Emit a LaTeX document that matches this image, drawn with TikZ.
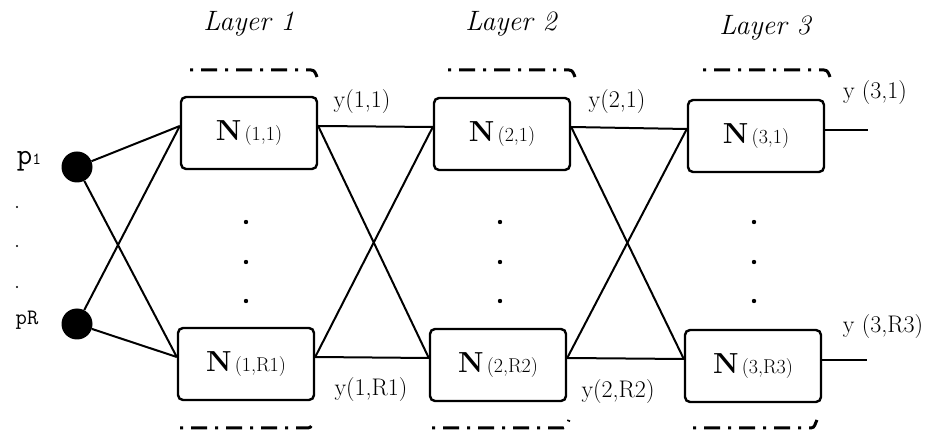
\documentclass[tikz,border=0pt]{standalone}
\usepackage{fontspec}
\usetikzlibrary{positioning}
\tikzset{
	neuron/.style={draw, line width=2.4pt, rounded corners=5pt, minimum width=136pt, minimum height=72pt, inner sep=0pt}
}
\tikzset{
	input/.style={circle, fill=black, minimum size=31pt, inner sep=0pt},
	wire/.style={line width=2pt},
	bracket/.style={line width=3pt, dash pattern=on 3pt off 8pt on 16pt off 8pt},
	layertext/.style={font=\fontsize{28}{30}\selectfont\itshape},
	ytext/.style={font=\fontsize{24}{26}\selectfont},
	ptext/.style={font=\fontsize{30}{32}\selectfont\ttfamily}
}
\newcommand{\nlabel}[1]{{\fontsize{29}{32}\selectfont\bfseries N}\ {\fontsize{20}{22}\selectfont(#1)}}

\begin{document}
\begin{tikzpicture}[x=1pt, y=-1pt]
      \useasboundingbox (0,0) rectangle (932,435);

      % inputs
      \node[input] (p1) at (77,167) {};
      \node[input] (pR) at (77,324) {};
      \node[ptext] (p1t) at (29,161) {p{\fontsize{17}{17}\selectfont 1}};
      \node[ptext, font=\fontsize{22}{24}\selectfont\ttfamily] (pRt) at (27,320) {pR};
      \foreach \y in {207,246,287}
        \fill (17,\y) circle (1.2);

      % neurons of the three layers
      \node[neuron] (n11) at (249,133) {\nlabel{1,1}};
      \node[neuron] (n1R) at (246,364) {\nlabel{1,R1}};
      \node[neuron] (n21) at (502,134) {\nlabel{2,1}};
      \node[neuron] (n2R) at (498,365) {\nlabel{2,R2}};
      \node[neuron] (n31) at (756,136) {\nlabel{3,1}};
      \node[neuron] (n3R) at (753,366) {\nlabel{3,R3}};

      % dots between the neurons
      \foreach \x in {246,500,754}
        \foreach \y in {222,262,301}
          \fill (\x,\y) circle (2.2);

      % layer titles
      \node[layertext] (l1) at (249,24) {Layer 1};
      \node[layertext] (l2) at (511,24) {Layer 2};
      \node[layertext] (l3) at (765,28) {Layer 3};

      % dash-dot brackets over and under each layer
      \foreach \a/\b/\c/\d in {190/311/180/308, 448/569/432/563, 703/824/693/811} {
        \draw[bracket] (\a,70) -- (\b,70) to[out=0,in=110] (\b+6,77);
        \draw[bracket] (\c,428) -- (\d,428) to[out=0,in=-120] (\d+6,420);
      }

      % connections
      \foreach \p in {p1,pR}
        \foreach \n in {n11,n1R}
          \draw[wire] (\p) -- ([yshift=7pt]\n.west);
      \foreach \a/\b in {11/21, 11/2R, 1R/21, 1R/2R, 21/31, 21/3R, 2R/31, 2R/3R}
        \draw[wire] ([yshift=7pt]n\a.east) -- ([yshift=7pt]n\b.west);

      % outputs
      \coordinate (o1) at ([xshift=43pt,yshift=6pt]n31.east);
      \coordinate (oR) at ([xshift=45pt,yshift=6pt]n3R.east);
      \draw[wire] ([yshift=6pt]n31.east) -- (o1);
      \draw[wire] ([yshift=6pt]n3R.east) -- (oR);

      % output labels
      \node[ytext] (y11) at (362,102) {y(1,1)};
      \node[ytext] (y21) at (617,102) {y(2,1)};
      \node[ytext] (y31) at (875,93) {y (3,1)};
      \node[ytext] (y1R) at (371,390) {y(1,R1)};
      \node[ytext] (y2R) at (618,392) {y(2,R2)};
      \node[ytext] (y3R) at (883,327) {y (3,R3)};
    \end{tikzpicture}
\end{document}
